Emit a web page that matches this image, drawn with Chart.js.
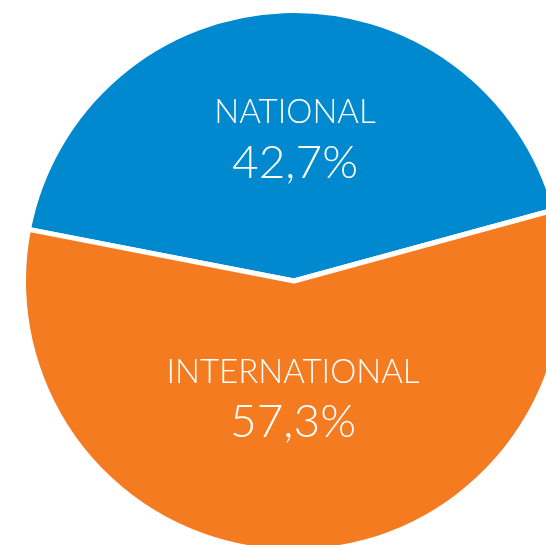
<!DOCTYPE html>
<html>
<head>
<meta charset="utf-8">
<script src="https://cdn.jsdelivr.net/npm/chart.js@4"></script>
<style>
  html, body { margin: 0; padding: 0; background: #fff; overflow: hidden; }
  #wrap { position: relative; width: 546px; height: 545px; overflow: hidden; }
  #chart { position: absolute; left: 21px; top: 8px; }
</style>
</head>
<body>
<div id="wrap">
  <canvas id="chart" width="546" height="546"></canvas>
</div>

<script>
  // Share of national vs. international
  const categories = ['NATIONAL', 'INTERNATIONAL'];
  const shares = [42.7, 57.3];
  const shareLabels = ['42,7%', '57,3%'];
  const sliceColors = ['#0089cf', '#f47b20'];

  // draw category name + value inside each slice, stacked vertically
  const sliceText = {
    id: 'sliceText',
    afterDatasetsDraw(chart) {
      const ctx = chart.ctx;
      const arcs = chart.getDatasetMeta(0).data;
      // vertical distance from center as fraction of radius: [name, value]
      const dist = [[-0.631, -0.440], [0.340, 0.526]];
      const dx = [1, -1];
      ctx.save();
      ctx.fillStyle = '#fff';
      ctx.textAlign = 'center';
      ctx.textBaseline = 'middle';
      arcs.forEach((arc, i) => {
        const p = arc.getProps(['x', 'y', 'outerRadius']);
        const r = p.outerRadius - 2.5;
        ctx.font = '300 33px Lato';
        ctx.fillText(categories[i], p.x + dx[i], p.y + r * dist[i][0]);
        ctx.font = '300 46px Lato';
        ctx.fillText(shareLabels[i], p.x + dx[i], p.y + r * dist[i][1]);
      });
      ctx.restore();
    }
  };

  new Chart(document.getElementById('chart'), {
    type: 'pie',
    data: {
      labels: categories,
      datasets: [{
        data: shares,
        backgroundColor: sliceColors,
        borderColor: '#fff',
        borderWidth: 5
      }]
    },
    options: {
      responsive: false,
      animation: false,
      rotation: -79,
      plugins: {
        legend: { display: false },
        tooltip: { enabled: false }
      }
    },
    plugins: [sliceText]
  });
</script>
</body>
</html>
